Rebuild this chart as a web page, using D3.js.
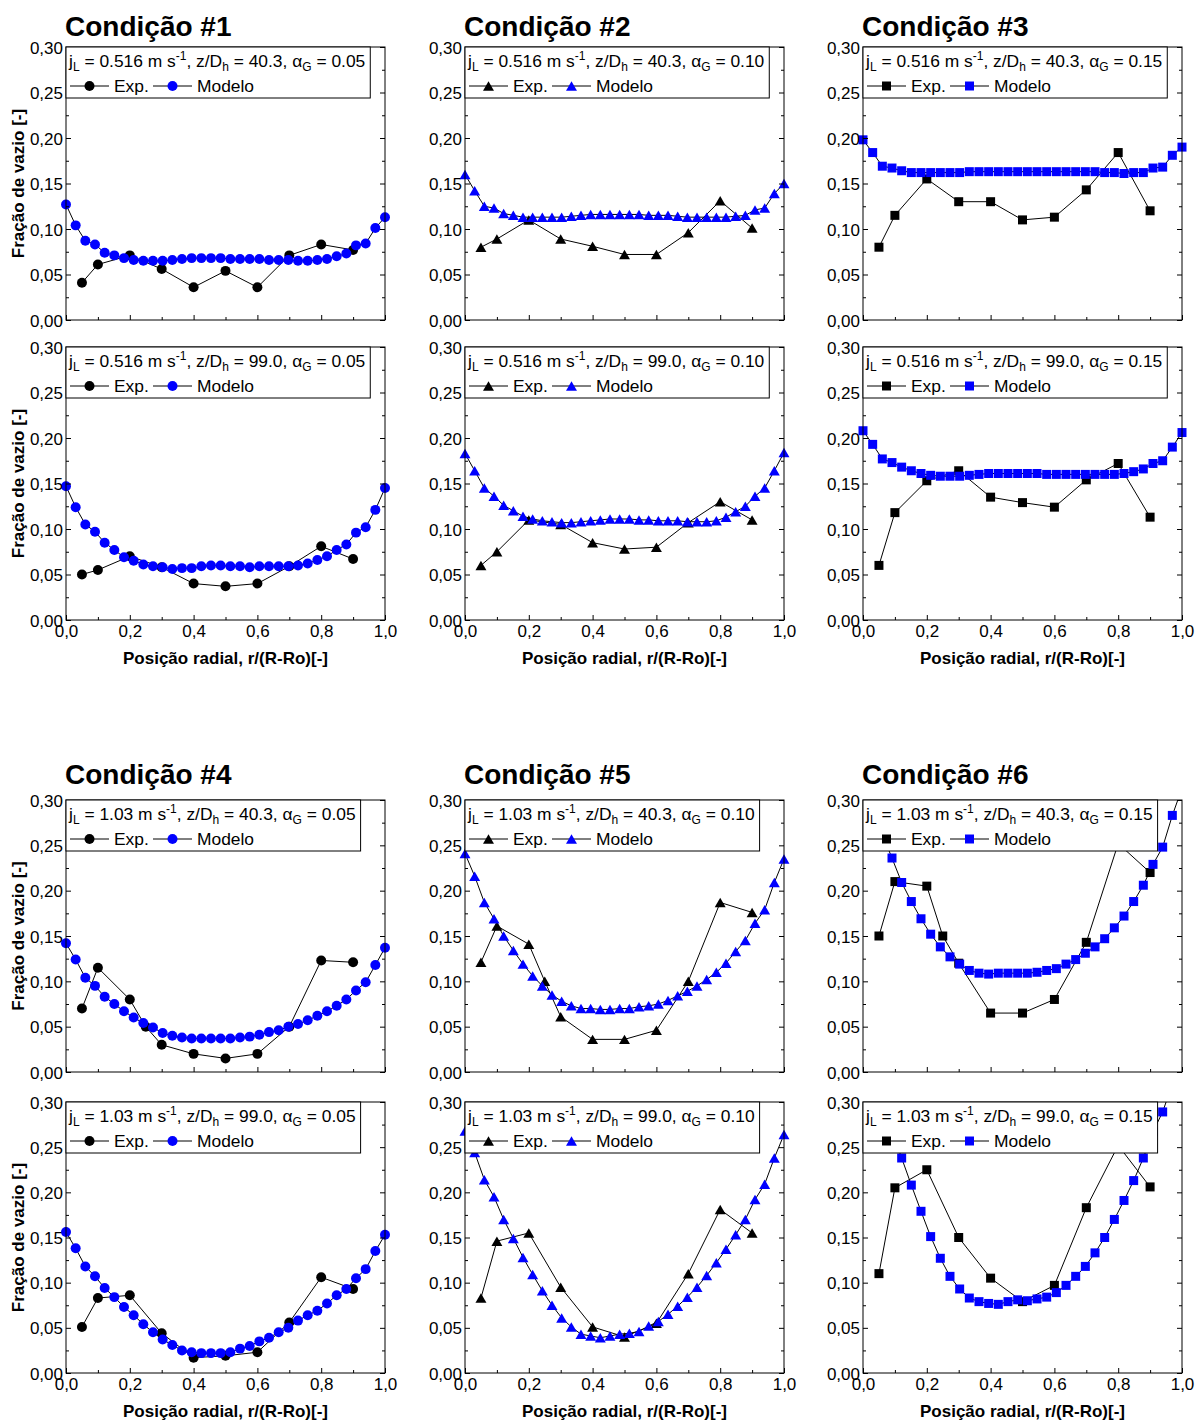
<!DOCTYPE html>
<html lang="pt">
<head>
<meta charset="UTF-8">
<title>Fração de vazio - Condições 1 a 6</title>
<script src="https://d3js.org/d3.v7.min.js"></script>
<style>
  body { margin: 0; background: #fff; }
  svg text { font-family: "Liberation Sans", Arial, sans-serif; fill: #000; }
  .title { font-size: 28px; font-weight: bold; }
  .tick-label { font-size: 17px; }
  .axis-title { font-size: 17px; font-weight: bold; }
  .leg { font-size: 17.4px; }
</style>
</head>
<body>
<script>
// ---- data ----
const titles = ["Condição #1", "Condição #2", "Condição #3", "Condição #4", "Condição #5", "Condição #6"];
const jL = ["0.516", "0.516", "0.516", "1.03", "1.03", "1.03"];
const zDh = ["40.3", "99.0"];
const alphaG = ["0.05", "0.10", "0.15"];

const yTicks = [0, 0.05, 0.10, 0.15, 0.20, 0.25, 0.30];
const yMinor = [0.025, 0.075, 0.125, 0.175, 0.225, 0.275];
const xTicks = [0, 0.2, 0.4, 0.6, 0.8, 1.0];
const xMinor = [0.1, 0.3, 0.5, 0.7, 0.9];

// radial positions
const xExp = [0.05, 0.1, 0.2, 0.3, 0.4, 0.5, 0.6, 0.7, 0.8, 0.9];
const xExp25 = [0.05, 0.1, 0.2, 0.25, 0.3, 0.4, 0.5, 0.6, 0.7, 0.8, 0.9];
const xModel = [0, 0.0303, 0.0606, 0.0909, 0.1212, 0.1515, 0.1818, 0.2121, 0.2424, 0.2727,
  0.3030, 0.3333, 0.3636, 0.3939, 0.4242, 0.4545, 0.4848, 0.5152, 0.5455, 0.5758,
  0.6061, 0.6364, 0.6667, 0.6970, 0.7273, 0.7576, 0.7879, 0.8182, 0.8485, 0.8788,
  0.9091, 0.9394, 0.9697, 1];

// condicao 1
const expC1a = [0.041, 0.061, 0.071, 0.056, 0.036, 0.054, 0.036, 0.071, 0.083, 0.077];
const modC1a = [0.127, 0.104, 0.087, 0.083, 0.074, 0.071, 0.068, 0.066, 0.065, 0.065, 0.065, 0.066, 0.067, 0.068, 0.068, 0.068, 0.068,
  0.067, 0.067, 0.067, 0.067, 0.066, 0.066, 0.066, 0.065, 0.065, 0.066, 0.067, 0.070, 0.073, 0.082, 0.084, 0.101, 0.113];
const expC1b = [0.050, 0.055, 0.070, 0.058, 0.040, 0.037, 0.040, 0.059, 0.081, 0.067];
const modC1b = [0.147, 0.124, 0.105, 0.097, 0.085, 0.077, 0.069, 0.065, 0.061, 0.059, 0.058, 0.056, 0.057, 0.057, 0.059, 0.060, 0.060,
  0.059, 0.059, 0.058, 0.059, 0.059, 0.059, 0.059, 0.060, 0.062, 0.066, 0.070, 0.077, 0.083, 0.096, 0.102, 0.121, 0.145];
// condicao 2
const expC2a = [0.080, 0.089, 0.110, 0.089, 0.081, 0.072, 0.072, 0.096, 0.131, 0.101];
const modC2a = [0.160, 0.142, 0.125, 0.123, 0.117, 0.115, 0.113, 0.113, 0.113, 0.113, 0.113, 0.114, 0.115, 0.116, 0.116, 0.116, 0.116,
  0.116, 0.116, 0.115, 0.115, 0.115, 0.114, 0.113, 0.113, 0.113, 0.113, 0.113, 0.114, 0.115, 0.121, 0.123, 0.139, 0.150];
const expC2b = [0.060, 0.075, 0.110, 0.105, 0.085, 0.078, 0.080, 0.107, 0.130, 0.110];
const modC2b = [0.183, 0.164, 0.145, 0.136, 0.126, 0.120, 0.114, 0.111, 0.109, 0.108, 0.107, 0.107, 0.108, 0.109, 0.110, 0.111, 0.111,
  0.111, 0.110, 0.110, 0.109, 0.109, 0.109, 0.108, 0.108, 0.108, 0.109, 0.113, 0.119, 0.125, 0.136, 0.145, 0.164, 0.184];
// condicao 3
const expC3a = [0.080, 0.115, 0.155, 0.130, 0.130, 0.110, 0.113, 0.143, 0.184, 0.120];
const modC3a = [0.198, 0.184, 0.169, 0.167, 0.164, 0.162, 0.162, 0.162, 0.162, 0.162, 0.162, 0.163, 0.163, 0.163, 0.163, 0.163, 0.163,
  0.163, 0.163, 0.163, 0.163, 0.163, 0.163, 0.163, 0.163, 0.162, 0.162, 0.161, 0.162, 0.162, 0.167, 0.168, 0.181, 0.190];
const expC3b = [0.060, 0.118, 0.153, 0.164, 0.135, 0.129, 0.124, 0.154, 0.172, 0.113];
const modC3b = [0.208, 0.193, 0.177, 0.173, 0.168, 0.164, 0.161, 0.159, 0.158, 0.158, 0.158, 0.159, 0.160, 0.161, 0.161, 0.161, 0.161,
  0.161, 0.161, 0.160, 0.160, 0.160, 0.160, 0.160, 0.160, 0.160, 0.160, 0.161, 0.163, 0.166, 0.172, 0.175, 0.190, 0.206];
// condicao 4
const expC4a = [0.070, 0.115, 0.080, 0.050, 0.030, 0.020, 0.015, 0.020, 0.050, 0.123, 0.121];
const modC4a = [0.142, 0.124, 0.104, 0.095, 0.083, 0.075, 0.067, 0.060, 0.054, 0.049, 0.043, 0.040, 0.038, 0.037, 0.037, 0.037, 0.037,
  0.037, 0.038, 0.039, 0.041, 0.044, 0.046, 0.050, 0.053, 0.057, 0.062, 0.067, 0.073, 0.080, 0.090, 0.099, 0.118, 0.137];
const expC4b = [0.051, 0.083, 0.086, 0.044, 0.017, 0.019, 0.023, 0.056, 0.106, 0.093];
const modC4b = [0.156, 0.138, 0.118, 0.107, 0.094, 0.084, 0.073, 0.064, 0.054, 0.045, 0.037, 0.031, 0.025, 0.023, 0.022, 0.022, 0.022,
  0.023, 0.027, 0.030, 0.035, 0.039, 0.045, 0.050, 0.058, 0.064, 0.069, 0.077, 0.086, 0.093, 0.105, 0.115, 0.135, 0.153];
// condicao 5
const expC5a = [0.121, 0.161, 0.141, 0.100, 0.061, 0.036, 0.036, 0.046, 0.100, 0.187, 0.176];
const modC5a = [0.241, 0.216, 0.187, 0.169, 0.150, 0.134, 0.119, 0.106, 0.095, 0.085, 0.078, 0.073, 0.070, 0.070, 0.069, 0.069, 0.070,
  0.070, 0.072, 0.073, 0.075, 0.079, 0.084, 0.089, 0.095, 0.102, 0.110, 0.120, 0.133, 0.145, 0.164, 0.179, 0.209, 0.235];
const expC5b = [0.083, 0.146, 0.155, 0.095, 0.051, 0.040, 0.055, 0.110, 0.181, 0.155];
const modC5b = [0.268, 0.244, 0.214, 0.195, 0.170, 0.149, 0.128, 0.109, 0.091, 0.075, 0.061, 0.051, 0.043, 0.041, 0.039, 0.041, 0.043,
  0.044, 0.046, 0.052, 0.057, 0.065, 0.074, 0.084, 0.095, 0.108, 0.122, 0.137, 0.153, 0.170, 0.192, 0.209, 0.238, 0.264];
// condicao 6
const expC6a = [0.150, 0.210, 0.205, 0.150, 0.120, 0.065, 0.065, 0.080, 0.143, 0.252, 0.220];
const modC6a = [0.320, 0.290, 0.262, 0.236, 0.209, 0.188, 0.169, 0.152, 0.138, 0.127, 0.119, 0.112, 0.109, 0.108, 0.109, 0.109, 0.109,
  0.109, 0.110, 0.112, 0.114, 0.119, 0.124, 0.131, 0.138, 0.147, 0.159, 0.172, 0.188, 0.206, 0.229, 0.248, 0.283, 0.313];
const expC6b = [0.110, 0.205, 0.225, 0.150, 0.105, 0.079, 0.097, 0.183, 0.252, 0.206];
const modC6b = [0.365, 0.335, 0.303, 0.268, 0.238, 0.208, 0.179, 0.151, 0.127, 0.107, 0.093, 0.083, 0.079, 0.077, 0.076, 0.079, 0.081,
  0.080, 0.082, 0.084, 0.089, 0.097, 0.107, 0.118, 0.133, 0.150, 0.170, 0.191, 0.213, 0.238, 0.267, 0.289, 0.320, 0.350];

const seriesExp = [[expC1a, expC1b], [expC2a, expC2b], [expC3a, expC3b], [expC4a, expC4b], [expC5a, expC5b], [expC6a, expC6b]];
const seriesMod = [[modC1a, modC1b], [modC2a, modC2b], [modC3a, modC3b], [modC4a, modC4b], [modC5a, modC5b], [modC6a, modC6b]];
const expX = [[xExp, xExp], [xExp, xExp], [xExp, xExp], [xExp25, xExp], [xExp25, xExp], [xExp25, xExp]];

// ---- layout ----
const W = 1195, H = 1425;
const colLeft = [66, 465, 863];
const plotW = 319;
const rowTop = [47, 347, 800, 1102];
const rowH = [273, 273, 272, 271];
const titleBase = [36, 784];

// circle, triangle, square (per column)
const symTypes = [d3.symbolCircle, d3.symbolTriangle, d3.symbolSquare];
const symSizes = [78, 52, 81];
const symShift = [0, 1.6, 0];

const fmtY = v => d3.format(".2f")(v).replace(".", ",");
const fmtX = v => d3.format(".1f")(v).replace(".", ",");

const svg = d3.select("body").append("svg")
    .attr("width", W)
    .attr("height", H);

for (let c = 0; c < 6; c++) {
    const grp = Math.floor(c / 3), col = c % 3;
    svg.append("text")
        .attr("class", "title")
        .attr("x", colLeft[col] - 1)
        .attr("y", titleBase[grp])
        .text(titles[c]);
    for (let r = 0; r < 2; r++) {
        const row = grp * 2 + r;
        drawPanel(c, r, col, colLeft[col], rowTop[row], rowH[row]);
    }
}

function drawPanel(c, r, col, left, top, h) {
    const g = svg.append("g").attr("transform", `translate(${left},${top})`);
    const x = d3.scaleLinear().domain([0, 1]).range([0, plotW]);
    const y = d3.scaleLinear().domain([0, 0.3]).range([h, 0]);

    const clipId = `clip-${c}-${r}`;
    g.append("clipPath").attr("id", clipId)
        .append("rect").attr("width", plotW).attr("height", h);

    const sym = d3.symbol().type(symTypes[col]).size(symSizes[col]);
    const line = d3.line().x(d => x(d[0])).y(d => y(d[1]));

    const series = [
        { xs: expX[c][r], ys: seriesExp[c][r], fill: "#000" },
        { xs: xModel, ys: seriesMod[c][r], fill: "#0000ff" }
    ];
    series.forEach(s => {
        const pts = s.xs.map((xv, i) => [xv, s.ys[i]]);
        g.append("path")
            .datum(pts)
            .attr("clip-path", `url(#${clipId})`)
            .attr("fill", "none")
            .attr("stroke", "#000")
            .attr("stroke-width", 1)
            .attr("d", line);
        g.selectAll(null)
            .data(pts.filter(d => d[1] <= 0.3))
            .enter()
            .append("path")
            .attr("transform", d => `translate(${x(d[0])},${y(d[1]) + symShift[col]})`)
            .attr("d", sym)
            .attr("fill", s.fill);
    });

    // frame
    g.append("rect")
        .attr("width", plotW).attr("height", h)
        .attr("fill", "none").attr("stroke", "#000").attr("stroke-width", 1);

    // left axis (ticks inside)
    const axL = g.append("g")
        .call(d3.axisLeft(y).tickValues(yTicks).tickSize(-5).tickPadding(3).tickFormat(fmtY));
    axL.select(".domain").remove();
    axL.selectAll("text").attr("class", "tick-label").attr("dy", "0.36em");
    g.append("g")
        .call(d3.axisLeft(y).tickValues(yMinor).tickSize(-3).tickFormat(""))
        .select(".domain").remove();

    // right axis (ticks inside)
    const axR = g.append("g").attr("transform", `translate(${plotW},0)`);
    axR.call(d3.axisRight(y).tickValues(yTicks).tickSize(-5).tickFormat(""));
    axR.select(".domain").remove();
    const axR2 = g.append("g").attr("transform", `translate(${plotW},0)`);
    axR2.call(d3.axisRight(y).tickValues(yMinor).tickSize(-3).tickFormat(""));
    axR2.select(".domain").remove();

    // bottom axis
    const axB = g.append("g").attr("transform", `translate(0,${h})`)
        .call(d3.axisBottom(x).tickValues(xTicks).tickSize(-5).tickPadding(5)
            .tickFormat(r === 1 ? fmtX : ""));
    axB.select(".domain").remove();
    axB.selectAll("text").attr("class", "tick-label");
    g.append("g").attr("transform", `translate(0,${h})`)
        .call(d3.axisBottom(x).tickValues(xMinor).tickSize(-3).tickFormat(""))
        .select(".domain").remove();

    g.selectAll(".tick line").attr("stroke", "#000");

    if (col === 0) {
        g.append("text")
            .attr("class", "axis-title")
            .attr("text-anchor", "middle")
            .attr("transform", `translate(-42,${h / 2}) rotate(-90)`)
            .text("Fração de vazio [-]");
    }
    if (r === 1) {
        g.append("text")
            .attr("class", "axis-title")
            .attr("text-anchor", "middle")
            .attr("x", plotW / 2)
            .attr("y", h + 44)
            .text("Posição radial, r/(R-Ro)[-]");
    }

    // legend
    const leg = g.append("g");
    const box = leg.append("rect")
        .attr("height", 51)
        .attr("fill", "#fff")
        .attr("stroke", "#000")
        .attr("stroke-width", 1);
    const t = leg.append("text").attr("class", "leg").attr("x", 3).attr("y", 20);
    t.append("tspan").text("j");
    t.append("tspan").attr("dy", 4).attr("font-size", 12).text("L");
    t.append("tspan").attr("dy", -4).text(` = ${jL[c]} m s`);
    t.append("tspan").attr("dy", -7).attr("font-size", 12).text("-1");
    t.append("tspan").attr("dy", 7).text(", z/D");
    t.append("tspan").attr("dy", 4).attr("font-size", 12).text("h");
    t.append("tspan").attr("dy", -4).text(` = ${zDh[r]}, α`);
    t.append("tspan").attr("dy", 4).attr("font-size", 12).text("G");
    t.append("tspan").attr("dy", -4).text(` = ${alphaG[col]}`);
    box.attr("width", t.node().getComputedTextLength() + 8);

    const items = [
        { x0: 4, label: "Exp.", fill: "#000" },
        { x0: 87, label: "Modelo", fill: "#0000ff" }
    ];
    items.forEach(it => {
        leg.append("line")
            .attr("x1", it.x0).attr("x2", it.x0 + 39)
            .attr("y1", 39).attr("y2", 39)
            .attr("stroke", "#000").attr("stroke-width", 1);
        leg.append("path")
            .attr("transform", `translate(${it.x0 + 19.5},${39 + symShift[col]})`)
            .attr("d", sym)
            .attr("fill", it.fill);
        leg.append("text")
            .attr("class", "leg")
            .attr("x", it.x0 + 44)
            .attr("y", 45)
            .text(it.label);
    });
}
</script>
</body>
</html>
